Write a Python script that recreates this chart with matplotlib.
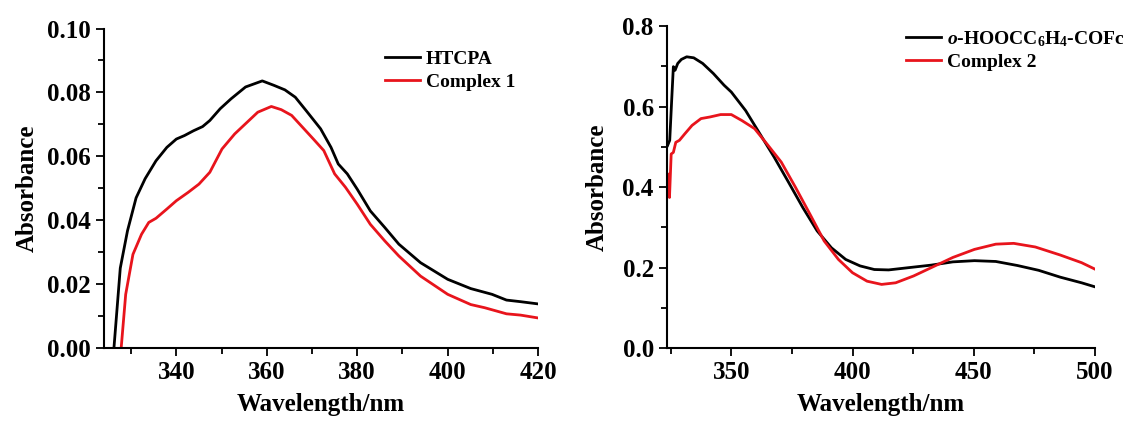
import numpy as np
import matplotlib
matplotlib.use("Agg")
from matplotlib import pyplot as plt
from matplotlib.ticker import MultipleLocator

plt.rcParams['font.family'] = 'Liberation Serif'
plt.rcParams['font.weight'] = 'bold'
plt.rcParams['mathtext.fontset'] = 'custom'
plt.rcParams['mathtext.rm'] = 'Liberation Serif:bold'
plt.rcParams['mathtext.it'] = 'Liberation Serif:bold:italic'
plt.rcParams['mathtext.bf'] = 'Liberation Serif:bold'

# left panel: HTCPA / Complex 1
wl_htcpa = [326.2, 327.6, 329.2, 331.1, 333.1, 335.5, 337.9, 340.0, 341.8, 343.8, 345.8,
            347.4, 349.7, 352.1, 355.3, 359.0, 361.6, 364.0, 366.3, 368.7, 371.9, 374.2,
            375.8, 377.8, 380.0, 382.9, 386.1, 389.2, 394.0, 400.0, 405.1, 409.8, 413.0,
            416.1, 420.0]
abs_htcpa = [0.0, 0.025, 0.0367, 0.047, 0.053, 0.0586, 0.0628, 0.0654, 0.0665, 0.068, 0.0693,
             0.0712, 0.0749, 0.078, 0.0817, 0.0836, 0.0822, 0.0808, 0.0785, 0.0743, 0.0686,
             0.0628, 0.0576, 0.0545, 0.0497, 0.0429, 0.0377, 0.0325, 0.0267, 0.0215, 0.0186,
             0.0168, 0.015, 0.0145, 0.0138]
wl_c1 = [327.8, 328.8, 330.4, 332.3, 333.9, 335.5, 337.9, 340.0, 342.6, 345.0, 347.4,
         350.1, 352.9, 355.3, 358.0, 361.0, 363.2, 365.5, 367.9, 370.3, 372.6, 375.0,
         377.4, 380.0, 382.9, 386.1, 389.2, 394.0, 400.0, 405.1, 408.2, 413.0, 416.1, 420.0]
abs_c1 = [0.0, 0.0168, 0.0293, 0.0356, 0.0393, 0.0406, 0.0435, 0.0461, 0.0487, 0.0513, 0.055,
          0.0623, 0.067, 0.0702, 0.0738, 0.0756, 0.0746, 0.0728, 0.0691, 0.0654, 0.0618, 0.0545,
          0.0503, 0.045, 0.0387, 0.0335, 0.0288, 0.0225, 0.0168, 0.0136, 0.0126, 0.0107, 0.0103,
          0.0094]

# right panel: o-HOOCC6H4-COFc / Complex 2
wl_cofc = [323.7, 324.6, 325.4, 326.1, 326.8, 327.9, 329.4, 331.6, 334.5, 338.2, 342.6,
           347.0, 350.0, 355.9, 361.8, 367.7, 373.6, 379.5, 385.4, 391.3, 397.2, 403.1,
           409.0, 414.9, 423.7, 432.6, 441.4, 450.3, 459.1, 468.0, 476.8, 485.7, 494.5, 500.0]
abs_cofc = [0.503, 0.516, 0.615, 0.699, 0.69, 0.707, 0.717, 0.7235, 0.721, 0.707, 0.682,
            0.653, 0.636, 0.59, 0.532, 0.474, 0.412, 0.349, 0.291, 0.249, 0.22, 0.204,
            0.195, 0.194, 0.2, 0.206, 0.214, 0.217, 0.215, 0.205, 0.193, 0.176, 0.162, 0.152]
wl_c2 = [324.2, 324.5, 325.2, 326.1, 327.1, 328.6, 330.8, 333.8, 337.5, 341.2, 345.6,
         350.0, 354.4, 359.6, 364.7, 370.6, 376.5, 382.4, 388.3, 394.2, 400.0, 406.0,
         412.0, 417.8, 425.2, 432.6, 441.4, 450.3, 459.1, 466.5, 475.4, 485.7, 494.5, 500.0]
abs_c2 = [0.432, 0.374, 0.482, 0.486, 0.511, 0.516, 0.532, 0.553, 0.57, 0.574, 0.58,
          0.58, 0.565, 0.545, 0.507, 0.462, 0.399, 0.333, 0.266, 0.22, 0.187, 0.166,
          0.158, 0.162, 0.179, 0.2, 0.225, 0.245, 0.258, 0.26, 0.251, 0.231, 0.212, 0.196]


def style_axes(ax, ypad):
    for s in ['top', 'right']:
        ax.spines[s].set_visible(False)
    for s in ['left', 'bottom']:
        ax.spines[s].set_linewidth(1.5)
    ax.tick_params(which='both', direction='out', width=1.3, labelsize=18)
    ax.tick_params(which='major', length=6)
    ax.tick_params(which='minor', length=4)
    ax.set_xlabel('Wavelength/nm', fontsize=18, fontweight='bold', labelpad=6)
    ax.set_ylabel('Absorbance', fontsize=18, fontweight='bold', labelpad=ypad)


fig = plt.figure(figsize=(11.23, 4.23), dpi=100)

ax1 = fig.add_axes([0.0926, 0.1773, 0.3866, 0.7553])
ax1.plot(wl_htcpa, abs_htcpa, color='black', lw=2, label='HTCPA')
ax1.plot(wl_c1, abs_c1, color='#e8141c', lw=2, label='Complex 1')
ax1.set_xlim(324, 420)
ax1.set_ylim(0, 0.10)
ax1.xaxis.set_major_locator(MultipleLocator(20))
ax1.xaxis.set_minor_locator(MultipleLocator(10))
ax1.yaxis.set_major_locator(MultipleLocator(0.02))
ax1.yaxis.set_minor_locator(MultipleLocator(0.01))
ax1.yaxis.set_major_formatter(matplotlib.ticker.FormatStrFormatter('%.2f'))
style_axes(ax1, 6)
ax1.legend(loc='upper left', bbox_to_anchor=(0.63, 0.955), frameon=False, fontsize=14,
           handlelength=1.8, handletextpad=0.3, labelspacing=0.25, borderaxespad=0)

ax2 = fig.add_axes([0.594, 0.1773, 0.381, 0.7612])
ax2.plot(wl_cofc, abs_cofc, color='black', lw=2, label=r'$\mathit{o}$-HOOCC$_6$H$_4$-COFc')
ax2.plot(wl_c2, abs_c2, color='#e8141c', lw=2, label='Complex 2')
ax2.set_xlim(323.5, 500)
ax2.set_ylim(0, 0.8)
ax2.xaxis.set_major_locator(MultipleLocator(50))
ax2.xaxis.set_minor_locator(MultipleLocator(25))
ax2.yaxis.set_major_locator(MultipleLocator(0.2))
ax2.yaxis.set_minor_locator(MultipleLocator(0.1))
ax2.yaxis.set_major_formatter(matplotlib.ticker.FormatStrFormatter('%.1f'))
style_axes(ax2, 10)
ax2.legend(loc='upper left', bbox_to_anchor=(0.54, 1.015), frameon=False, fontsize=14,
           handlelength=1.8, handletextpad=0.3, labelspacing=0.25, borderaxespad=0)

fig.savefig('out.png', dpi=100)
